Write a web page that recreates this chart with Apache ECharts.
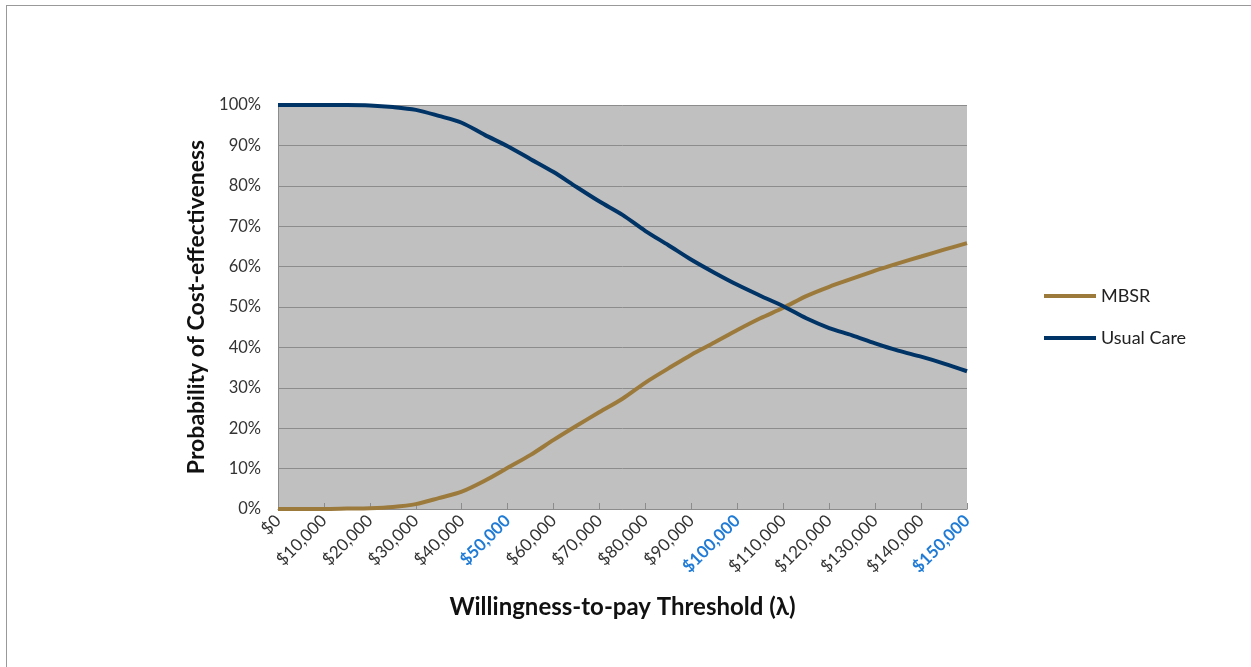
<!DOCTYPE html>
<html>
<head>
<meta charset="utf-8">
<script src="https://cdn.jsdelivr.net/npm/echarts@6/dist/echarts.min.js"></script>
<style>
  html, body { margin: 0; padding: 0; background: #fff; }
  #frame { position: absolute; left: 6px; top: 5px; width: 1245px; height: 662px;
           border-top: 1px solid #999; border-left: 1px solid #999; box-sizing: border-box; }
  #chart { position: absolute; left: 0; top: 0; width: 1251px; height: 667px; }
</style>
</head>
<body>
<div id="frame"></div>
<div id="chart"></div>
<script>
// willingness-to-pay thresholds, $5,000 steps
const thresholds = [0, 5000, 10000, 15000, 20000, 25000, 30000, 35000, 40000, 45000,
  50000, 55000, 60000, 65000, 70000, 75000, 80000, 85000, 90000, 95000,
  100000, 105000, 110000, 115000, 120000, 125000, 130000, 135000, 140000, 145000, 150000]
// probability of cost-effectiveness (%)
const mbsr = [0, 0, 0, 0.1, 0.2, 0.5, 1.2, 2.7, 4.3, 7.0,
  10.2, 13.4, 17.1, 20.6, 24.0, 27.3, 31.3, 34.8, 38.2, 41.2,
  44.3, 47.2, 49.8, 52.7, 55.0, 57.0, 59.0, 60.8, 62.5, 64.2, 65.8]
const usualCare = [100, 100, 100, 100, 99.9, 99.5, 98.8, 97.3, 95.6, 92.6,
  89.8, 86.6, 83.4, 79.7, 76.1, 72.8, 68.8, 65.3, 61.7, 58.5,
  55.5, 52.8, 50.2, 47.2, 44.8, 43.0, 41.0, 39.2, 37.7, 36.0, 34.1]
const highlight = [50000, 100000, 150000]

const font = 'Lato, "Open Sans", sans-serif'
const chart = echarts.init(document.getElementById('chart'))

chart.setOption({
  animation: false,
  textStyle: { fontFamily: font },
  grid: {
    left: 278, right: 284, top: 105, bottom: 158,
    show: true, backgroundColor: '#c0c0c0', borderWidth: 0,
  },
  legend: {
    orient: 'vertical',
    left: 1039, top: 282,
    icon: 'rect', itemWidth: 52, itemHeight: 4, itemGap: 24,
    textStyle: { fontSize: 18, color: '#222', fontFamily: font },
    data: ['MBSR', 'Usual Care'],
  },
  xAxis: {
    type: 'value',
    min: 0, max: 150000, interval: 10000,
    name: 'Willingness-to-pay Threshold (λ)',
    nameLocation: 'middle', nameGap: 86,
    nameTextStyle: { fontSize: 24, fontWeight: 'bold', color: '#111', fontFamily: font },
    splitLine: { show: false },
    axisLine: { lineStyle: { color: '#8c8c8c', width: 1 } },
    axisTick: { inside: true, length: 6, lineStyle: { color: '#8c8c8c' } },
    axisLabel: {
      rotate: 45, margin: 9, fontSize: 17, color: '#333',
      formatter: (v) => {
        const s = '$' + v.toLocaleString('en-US')
        return highlight.includes(v) ? '{hi|' + s + '}' : s
      },
      rich: { hi: { color: '#1f7bd6', fontWeight: 'bold', fontSize: 17, fontFamily: font } },
    },
  },
  yAxis: {
    type: 'value',
    min: 0, max: 100, interval: 10,
    name: 'Probability of Cost-effectiveness',
    nameLocation: 'middle', nameGap: 69, nameRotate: 90,
    nameTextStyle: { fontSize: 23, fontWeight: 'bold', color: '#111', fontFamily: font },
    axisLine: { show: true, lineStyle: { color: '#8c8c8c', width: 1 } },
    axisTick: { show: false },
    splitLine: { lineStyle: { color: '#8c8c8c', width: 1 } },
    axisLabel: { fontSize: 16.5, color: '#333', margin: 17, formatter: '{value}%' },
  },
  series: [
    {
      name: 'MBSR', type: 'line', symbol: 'none', smooth: 0.3,
      lineStyle: { width: 4, color: '#9c7a3c' }, itemStyle: { color: '#9c7a3c' },
      data: thresholds.map((t, i) => [t, mbsr[i]]),
    },
    {
      name: 'Usual Care', type: 'line', symbol: 'none', smooth: 0.3,
      lineStyle: { width: 4, color: '#003366' }, itemStyle: { color: '#003366' },
      data: thresholds.map((t, i) => [t, usualCare[i]]),
    },
  ],
})
</script>
</body>
</html>
